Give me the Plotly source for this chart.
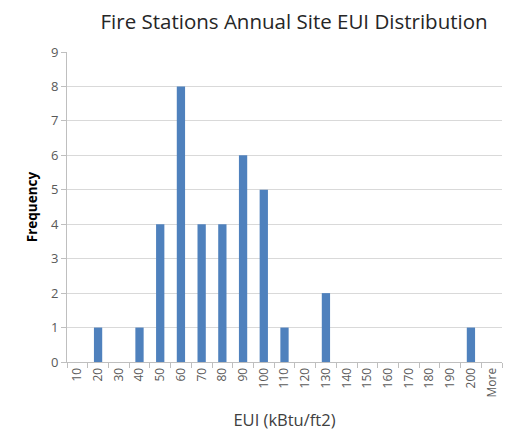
import plotly.graph_objects as go

# Histogram bins (upper bound of each EUI bin) and station counts
bins = ["10", "20", "30", "40", "50", "60", "70", "80", "90", "100", "110",
        "120", "130", "140", "150", "160", "170", "180", "190", "200", "More"]
frequency = [0, 1, 0, 1, 4, 8, 4, 4, 6, 5, 1, 0, 2, 0, 0, 0, 0, 0, 0, 1, 0]
y_ticks = list(range(0, 10))

font_family = "Open Sans, Lato, sans-serif"
text_color = "#404040"
grid_color = "#D9D9D9"

fig = go.Figure(
    go.Bar(
        x=bins,
        y=frequency,
        marker=dict(color="#4F81BD", line=dict(width=0)),
        width=0.4,
    )
)

fig.update_layout(
    width=507,
    height=447,
    margin=dict(l=67, r=5, t=52, b=85),
    paper_bgcolor="white",
    plot_bgcolor="white",
    showlegend=False,
    font=dict(family=font_family, color=text_color),
    title=dict(
        text="Fire Stations Annual Site EUI Distribution",
        x=0.58,
        xanchor="center",
        y=0.952,
        yanchor="middle",
        font=dict(size=20.5, color="#262626", family=font_family),
    ),
)

fig.update_xaxes(
    type="category",
    tickangle=-90,
    tickfont=dict(size=12, color="#595959"),
    showgrid=False,
    showline=True,
    linecolor="#BFBFBF",
    linewidth=1,
    ticks="outside",
    tickson="boundaries",
    ticklen=5,
    tickcolor="#BFBFBF",
    title=dict(text="EUI (kBtu/ft2)", font=dict(size=16.5, color=text_color), standoff=17),
)

fig.update_yaxes(
    range=[0, 9],
    tickvals=y_ticks,
    tickfont=dict(size=13, color="#595959"),
    showgrid=True,
    gridcolor=grid_color,
    gridwidth=1,
    zeroline=False,
    showline=True,
    linecolor="#BFBFBF",
    linewidth=1,
    ticks="outside",
    ticklen=5,
    tickcolor="#BFBFBF",
    title=dict(text="<b>Frequency</b>", font=dict(size=13.5, color="#000000"), standoff=10),
)

fig.write_html("out.html")
